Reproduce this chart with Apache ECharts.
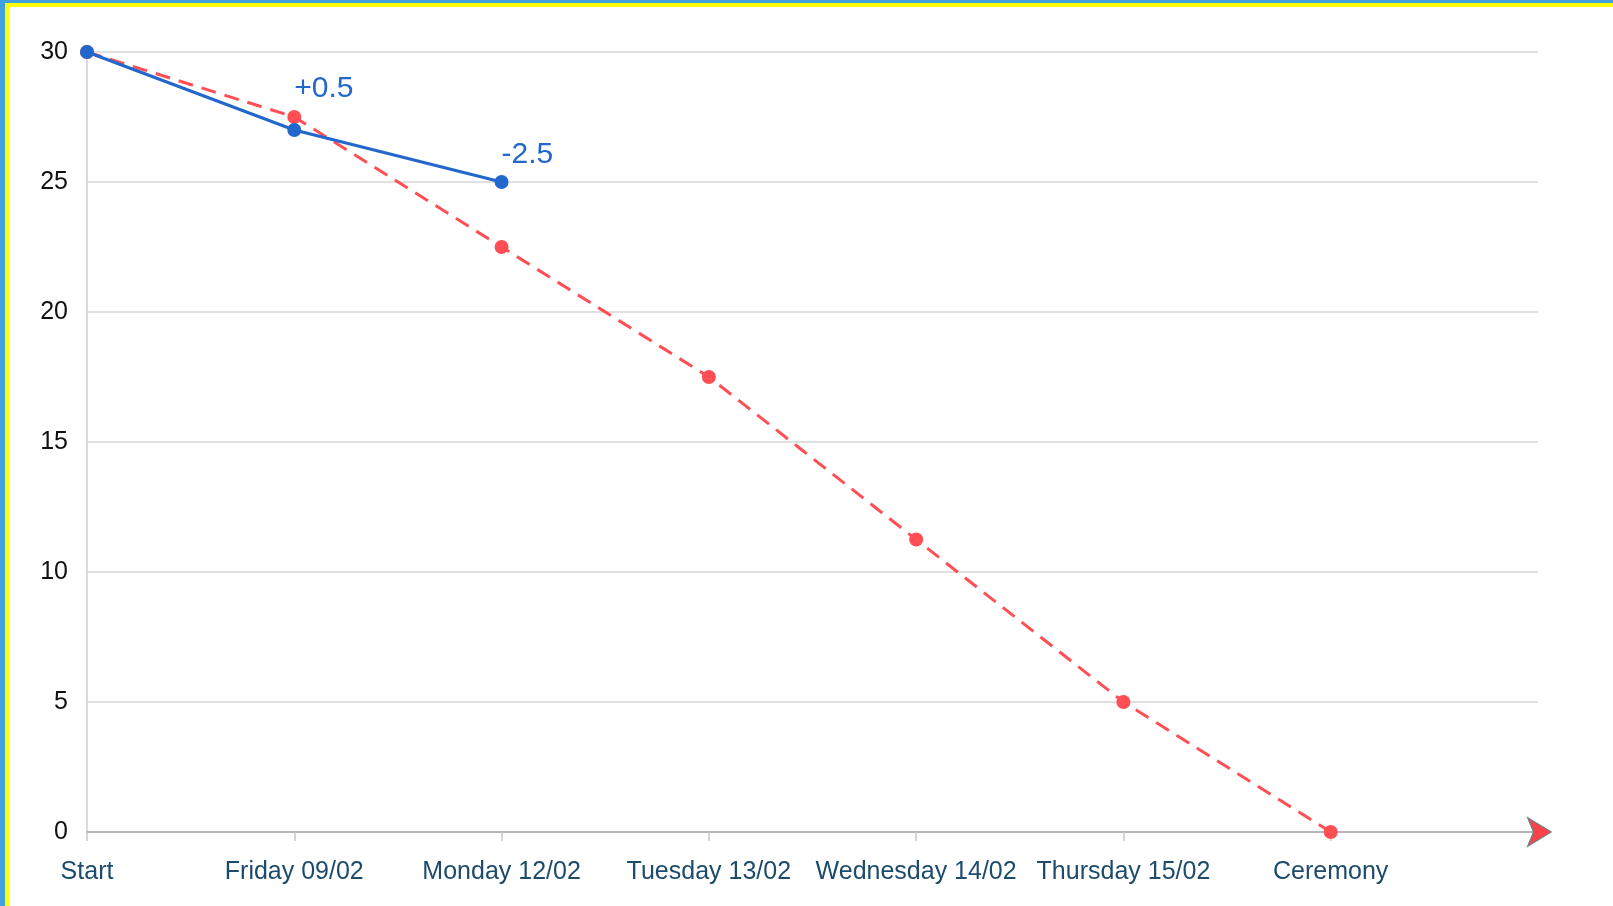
<!DOCTYPE html>
<html>
<head>
<meta charset="utf-8">
<script src="https://cdn.jsdelivr.net/npm/echarts@6/dist/echarts.min.js"></script>
<style>
html,body{margin:0;padding:0;background:#fff;overflow:hidden;}
#chart{position:absolute;left:0;top:0;width:1613px;height:906px;}
#bTop{position:absolute;left:0;top:0;width:1613px;height:3px;background:#42a0dd;}
#bLeft{position:absolute;left:0;top:0;width:5px;height:906px;background:#42a0dd;}
#yTop{position:absolute;left:5px;top:3px;width:1608px;height:4px;background:#ffff00;}
#yLeft{position:absolute;left:5px;top:3px;width:4px;height:903px;background:#ffff00;}
</style>
</head>
<body>
<div id="chart"></div>
<div id="bTop"></div><div id="bLeft"></div><div id="yTop"></div><div id="yLeft"></div>
<script>
const categories = ['Start', 'Friday 09/02', 'Monday 12/02', 'Tuesday 13/02', 'Wednesday 14/02', 'Thursday 15/02', 'Ceremony', ''];
const planned = [30, 27.5, 22.5, 17.5, 11.25, 5, 0];
const actual = [30, 27, 25];
const actualLabels = ['', '+0.5', '-2.5'];
const yTicks = [0, 5, 10, 15, 20, 25, 30];

const chart = echarts.init(document.getElementById('chart'));
const FONT = '"Liberation Sans", Arial, Helvetica, sans-serif';
// label vertical offsets (style only)
const labelLift = [0, -14, 0];
chart.setOption({
  backgroundColor: '#fff',
  animation: false,
  textStyle: { fontFamily: FONT },
  grid: { left: 87, top: 52, right: 75, bottom: 74, containLabel: false },
  xAxis: {
    type: 'category',
    data: categories,
    boundaryGap: false,
    axisLine: { show: true, lineStyle: { color: '#a6a6a6', width: 1.5 } },
    axisTick: { show: true, alignWithLabel: true, length: 9, lineStyle: { color: '#c8c8c8', width: 1.5 } },
    axisLabel: { color: '#1d4b6b', fontSize: 25, margin: 28, fontFamily: FONT, interval: 0 },
    splitLine: { show: false }
  },
  yAxis: {
    type: 'value',
    min: yTicks[0],
    max: yTicks[yTicks.length - 1],
    interval: 5,
    axisLine: { show: true, lineStyle: { color: '#cfcfcf', width: 1.5 } },
    axisTick: { show: false },
    axisLabel: { color: '#111', fontSize: 25, margin: 19, fontFamily: FONT },
    splitLine: { show: true, lineStyle: { color: '#d6d6d6', width: 1.5 } }
  },
  series: [
    {
      type: 'line',
      data: planned,
      symbol: 'circle',
      symbolSize: 14,
      itemStyle: { color: '#ff4f55' },
      lineStyle: { color: '#ff4f55', width: 3, type: [15, 9] },
      z: 2,
      markPoint: {
        silent: true,
        data: [{ coord: [categories.length - 1, 0] }],
        symbol: 'arrow',
        symbolRotate: -90,
        symbolSize: [21, 23],
        symbolOffset: [13, 0],
        itemStyle: { color: '#ff4048', borderColor: '#7a7a7a', borderWidth: 1.5 },
        label: { show: false }
      }
    },
    {
      type: 'line',
      data: actual.map((v, i) => ({
        value: v,
        label: { show: !!actualLabels[i], formatter: actualLabels[i], offset: [0, labelLift[i]] }
      })),
      symbol: 'circle',
      symbolSize: 14,
      itemStyle: { color: '#2267cc' },
      lineStyle: { color: '#2267cc', width: 3 },
      z: 3,
      label: {
        show: false,
        position: 'top',
        align: 'left',
        color: '#2267cc',
        fontSize: 30,
        fontFamily: FONT
      }
    }
  ]
});
</script>
</body>
</html>
